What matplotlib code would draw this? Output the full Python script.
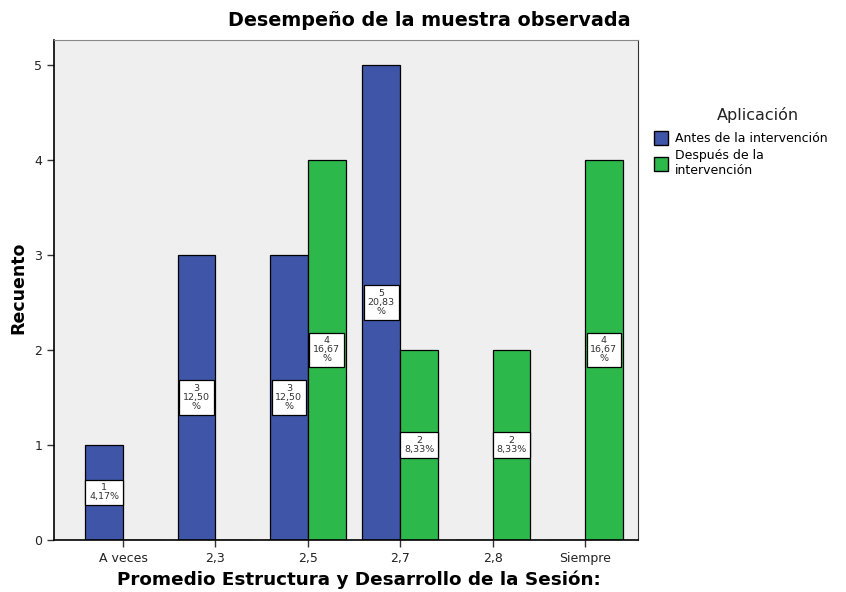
import numpy as np
import matplotlib
matplotlib.use('Agg')
import matplotlib.pyplot as plt
from matplotlib.patches import Patch

categorias = ['A veces', '2,3', '2,5', '2,7', '2,8', 'Siempre']
antes = [1, 3, 3, 5, 0, 0]
despues = [0, 0, 4, 2, 2, 4]
total = 24

azul = '#3E55A8'
verde = '#2DB84B'

fig = plt.figure(figsize=(8.46, 5.92), dpi=100)
ax = fig.add_axes([54 / 846, 1 - 540 / 592, (638 - 54) / 846, (540 - 40) / 592])
ax.set_facecolor('#EFEFEF')

x = np.arange(len(categorias))
w = 0.41
ax.bar(x - w / 2, antes, w, color=azul, edgecolor='black', linewidth=0.9, zorder=2)
ax.bar(x + w / 2, despues, w, color=verde, edgecolor='black', linewidth=0.9, zorder=2)


def etiqueta(v):
    pct = '%.2f' % (v / total * 100)
    pct = pct.replace('.', ',')
    if len(pct) > 4:
        return '%d\n%s\n%%' % (v, pct)
    return '%d\n%s%%' % (v, pct)


for serie, off in [(antes, -w / 2), (despues, w / 2)]:
    for i, v in enumerate(serie):
        if v > 0:
            ax.text(x[i] + off, v / 2, etiqueta(v), ha='center', va='center',
                    fontsize=6.8, linespacing=1.0, color='#333333', zorder=3,
                    bbox=dict(boxstyle='square,pad=0.4', fc='white', ec='black', lw=0.9))

ax.set_xlim(-0.747, 5.574)
ax.set_ylim(0, 5.263)
ax.set_xticks(x)
ax.set_xticklabels(categorias, fontsize=9)
ax.set_yticks(range(6))
ax.tick_params(axis='both', labelsize=9, length=5, width=1, color='#333333', labelcolor='#222222')
ax.spines['top'].set_color('#888888')
ax.spines['right'].set_color('#333333')
ax.spines['left'].set_linewidth(1.2)
ax.spines['bottom'].set_linewidth(1.2)

fig.text(429 / 846, 1 - 20 / 592, 'Desempeño de la muestra observada', ha='center', va='center',
         fontsize=13.8, fontweight='bold')
fig.text(359 / 846, 1 - 580 / 592, 'Promedio Estructura y Desarrollo de la Sesión:', ha='center',
         va='center', fontsize=13.2, fontweight='bold')
fig.text(18 / 846, 1 - 288 / 592, 'Recuento', rotation=90, ha='center', va='center',
         fontsize=12.5, fontweight='bold')

fig.text(758 / 846, 1 - 115 / 592, 'Aplicación', ha='center', va='center', fontsize=11.5,
         color='#222222')
handles = [Patch(facecolor=azul, edgecolor='black', label='Antes de la intervención'),
           Patch(facecolor=verde, edgecolor='black', label='Después de la\nintervención')]
leg = fig.legend(handles=handles, loc='upper left',
                 bbox_to_anchor=(654 / 846, 1 - 131 / 592), frameon=False, fontsize=9,
                 handlelength=1.1, handleheight=1.3, handletextpad=0.55,
                 labelspacing=0.35, borderaxespad=0, borderpad=0)

fig.savefig('out.png', dpi=100)
